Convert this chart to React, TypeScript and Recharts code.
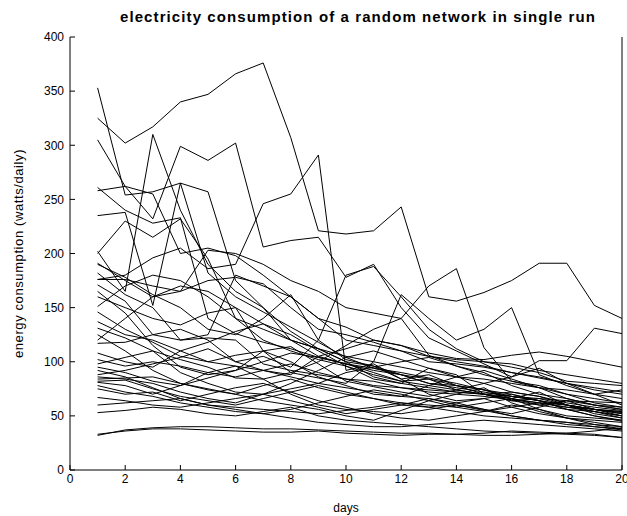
import React from 'react';
import { LineChart, Line, XAxis, YAxis } from 'recharts';

const days = [1, 2, 3, 4, 5, 6, 7, 8, 9, 10, 11, 12, 13, 14, 15, 16, 17, 18, 19, 20];
const xTicks = [0, 2, 4, 6, 8, 10, 12, 14, 16, 18, 20];
const yTicks = [0, 50, 100, 150, 200, 250, 300, 350, 400];

// one array per node, daily consumption (days 1..20)
const n01 = [325, 302, 317, 340, 347, 366, 376, 307, 221, 218, 221, 243, 160, 156, 164, 175, 191, 191, 152, 140];
const n02 = [353, 254, 257, 265, 257, 175, 150, 120, 105, 98, 92, 88, 80, 76, 72, 68, 64, 60, 56, 52];
const n03 = [202, 165, 310, 240, 190, 165, 150, 128, 112, 100, 96, 88, 84, 78, 70, 66, 72, 60, 54, 48];
const n04 = [305, 262, 232, 299, 286, 302, 206, 212, 215, 178, 190, 150, 122, 110, 98, 86, 94, 80, 70, 74];
const n05 = [176, 180, 196, 205, 186, 190, 246, 255, 291, 92, 98, 84, 88, 78, 74, 66, 60, 64, 56, 50];
const n06 = [261, 240, 228, 233, 140, 126, 118, 112, 104, 98, 90, 82, 84, 74, 70, 64, 60, 56, 54, 50];
const n07 = [235, 238, 152, 265, 182, 160, 146, 132, 118, 104, 94, 88, 80, 78, 74, 70, 64, 60, 56, 54];
const n08 = [258, 262, 255, 200, 205, 198, 180, 160, 140, 132, 120, 115, 105, 100, 96, 90, 86, 80, 76, 72];
const n09 = [191, 175, 160, 165, 203, 200, 190, 175, 165, 150, 145, 140, 170, 186, 113, 82, 78, 70, 62, 58];
const n10 = [182, 162, 150, 120, 125, 180, 170, 160, 140, 120, 115, 110, 100, 98, 95, 90, 85, 80, 74, 70];
const n11 = [176, 176, 170, 165, 175, 178, 172, 150, 130, 125, 118, 110, 105, 102, 100, 95, 90, 82, 80, 78];
const n12 = [171, 156, 125, 130, 120, 100, 105, 95, 120, 180, 188, 160, 130, 112, 100, 98, 92, 88, 84, 80];
const n13 = [160, 150, 140, 134, 145, 150, 110, 90, 85, 80, 100, 162, 140, 120, 130, 150, 88, 78, 70, 60];
const n14 = [151, 170, 180, 175, 160, 140, 130, 120, 112, 105, 100, 95, 90, 86, 84, 80, 76, 74, 70, 66];
const n15 = [146, 130, 118, 105, 100, 96, 92, 88, 105, 112, 120, 115, 108, 103, 102, 106, 109, 105, 100, 95];
const n16 = [137, 125, 120, 110, 100, 106, 110, 114, 98, 82, 77, 72, 68, 74, 80, 86, 101, 101, 131, 126];
const n17 = [131, 122, 110, 102, 95, 85, 84, 90, 100, 115, 130, 140, 106, 96, 90, 78, 70, 66, 60, 56];
const n18 = [117, 118, 125, 120, 122, 120, 98, 92, 88, 84, 82, 76, 72, 70, 68, 65, 62, 58, 56, 54];
const n19 = [108, 100, 95, 110, 118, 128, 135, 125, 110, 96, 88, 82, 78, 74, 70, 72, 68, 62, 58, 55];
const n20 = [98, 104, 110, 90, 80, 72, 70, 75, 80, 90, 95, 100, 104, 96, 88, 82, 76, 70, 66, 62];
const n21 = [95, 90, 82, 78, 85, 92, 100, 108, 104, 98, 94, 90, 85, 80, 74, 68, 64, 56, 50, 46];
const n22 = [86, 84, 80, 72, 66, 62, 70, 80, 92, 104, 110, 102, 94, 86, 80, 72, 68, 60, 56, 52];
const n23 = [84, 85, 86, 80, 75, 70, 64, 60, 56, 50, 46, 55, 64, 70, 76, 62, 54, 48, 44, 40];
const n24 = [82, 83, 75, 68, 64, 60, 66, 72, 78, 72, 66, 60, 58, 62, 66, 58, 52, 48, 46, 44];
const n25 = [81, 78, 70, 78, 90, 96, 84, 70, 60, 56, 54, 52, 56, 60, 55, 50, 46, 42, 40, 38];
const n26 = [78, 72, 68, 62, 58, 54, 52, 56, 62, 68, 74, 70, 64, 58, 54, 60, 56, 50, 48, 46];
const n27 = [75, 70, 72, 64, 70, 76, 80, 72, 64, 58, 52, 48, 46, 50, 54, 58, 62, 60, 56, 53];
const n28 = [67, 64, 60, 58, 62, 66, 70, 64, 58, 52, 56, 60, 66, 62, 56, 50, 46, 44, 40, 37];
const n29 = [53, 55, 58, 56, 52, 50, 54, 58, 50, 46, 44, 42, 40, 38, 36, 35, 34, 33, 32, 30];
const n30 = [33, 36, 38, 38, 37, 36, 35, 35, 36, 34, 33, 32, 33, 33, 34, 36, 35, 34, 33, 30];
const n31 = [32, 37, 39, 40, 40, 39, 38, 38, 37, 36, 35, 34, 34, 33, 32, 32, 33, 34, 36, 39];
const n32 = [200, 230, 215, 232, 195, 140, 120, 110, 102, 96, 84, 80, 76, 72, 70, 66, 62, 58, 54, 50];
const n33 = [120, 140, 160, 170, 165, 150, 135, 120, 112, 100, 86, 80, 94, 88, 70, 64, 66, 60, 52, 48];
const n34 = [190, 178, 162, 150, 130, 125, 140, 162, 120, 102, 96, 84, 70, 64, 66, 70, 64, 56, 50, 45];
const n35 = [88, 92, 98, 104, 112, 100, 92, 86, 80, 76, 72, 68, 78, 86, 92, 84, 76, 66, 60, 58];
const n36 = [102, 96, 100, 96, 90, 86, 92, 98, 90, 84, 78, 76, 74, 72, 70, 68, 66, 64, 63, 62];
const n37 = [165, 145, 115, 95, 88, 92, 110, 100, 86, 78, 70, 68, 66, 60, 56, 52, 58, 64, 60, 56];
const n38 = [125, 110, 92, 80, 74, 70, 78, 84, 76, 70, 66, 62, 60, 58, 62, 66, 56, 48, 42, 40];
const n39 = [92, 86, 76, 66, 60, 58, 56, 54, 52, 55, 58, 62, 58, 54, 50, 48, 46, 44, 42, 38];
const n40 = [60, 62, 64, 66, 60, 56, 52, 48, 44, 42, 40, 40, 42, 44, 46, 44, 42, 40, 38, 36];

const nodes = [n01, n02, n03, n04, n05, n06, n07, n08, n09, n10, n11, n12, n13, n14, n15, n16, n17, n18, n19, n20,
  n21, n22, n23, n24, n25, n26, n27, n28, n29, n30, n31, n32, n33, n34, n35, n36, n37, n38, n39, n40];

const data = days.map((d, i) => {
  const row: any = { day: d };
  nodes.forEach((n, k) => { row['n' + k] = n[i]; });
  return row;
});

const font = 'Arial, "Liberation Sans", sans-serif';
const tickStyle = { fill: '#000', fontSize: 12, fontFamily: font };

export default function App() {
  return (
    <div style={{ position: 'absolute', left: 0, top: 0, width: 627, height: 516, background: '#fff' }}>
      <div style={{
        position: 'absolute', left: 82, width: 552, top: 8, textAlign: 'center',
        fontFamily: font, fontWeight: 'bold', fontSize: 15, letterSpacing: 1.1, color: '#000'
      }}>
        electricity consumption of a random network in single run
      </div>
      <LineChart width={627} height={516} data={data} margin={{ top: 37, right: 0, left: 0, bottom: 0 }}>
        <XAxis xAxisId="b" dataKey="day" type="number" domain={[0, 20]} ticks={xTicks} height={46}
          stroke="#000" tickSize={-5} tickMargin={9} tick={tickStyle} interval={0}
          label={{ value: 'days', position: 'insideBottom', offset: 4, fill: '#000', fontSize: 12, fontFamily: font }} />
        <XAxis xAxisId="t" orientation="top" dataKey="day" type="number" domain={[0, 20]} ticks={xTicks} height={0}
          stroke="#000" tickSize={-5} tickFormatter={() => ''} interval={0} />
        <YAxis yAxisId="l" type="number" domain={[0, 400]} ticks={yTicks} width={70}
          stroke="#000" tickSize={-5} tickMargin={11} tick={tickStyle} interval={0}
          label={{ value: 'energy consumption (watts/daily)', angle: -90, position: 'insideLeft', offset: 18, style: { textAnchor: 'middle', letterSpacing: 0.6 }, fill: '#000', fontSize: 13, fontFamily: font }} />
        <YAxis yAxisId="r" orientation="right" type="number" domain={[0, 400]} ticks={yTicks} width={5}
          stroke="#000" tickSize={-5} tickFormatter={() => ''} interval={0} />
        {nodes.map((_, k) => (
          <Line key={k} xAxisId="b" yAxisId="l" type="linear" dataKey={'n' + k} stroke="#000" strokeWidth={1}
            dot={false} activeDot={false} isAnimationActive={false} />
        ))}
      </LineChart>
    </div>
  );
}
